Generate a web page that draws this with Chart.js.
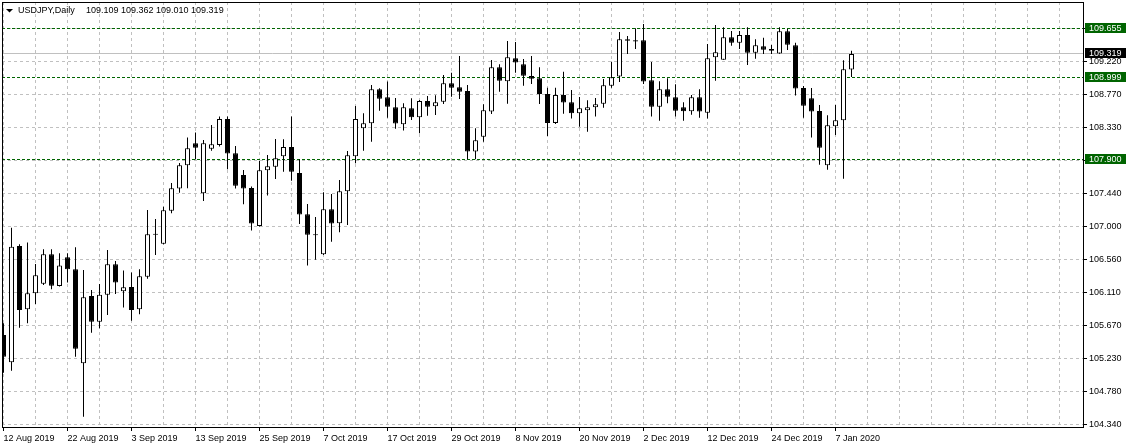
<!DOCTYPE html>
<html><head><meta charset="utf-8">
<script src="https://cdn.jsdelivr.net/npm/chart.js@4.4.1/dist/chart.umd.min.js"></script>
<style>html,body{margin:0;padding:0;background:#fff;overflow:hidden}canvas{display:block}</style>
</head><body>
<canvas id="c" width="1129" height="448" style="width:1129px;height:448px"></canvas>
<script>
const symbolTitle = 'USDJPY,Daily';
const opens = [105.545,105.178,106.740,105.889,106.104,106.234,106.628,106.203,106.588,106.427,
105.164,106.069,105.724,106.086,106.494,106.131,106.189,105.889,106.328,106.892,
106.771,107.214,107.510,107.823,108.118,107.447,108.047,108.096,108.445,107.984,
107.693,107.519,107.008,107.756,107.805,107.944,108.069,107.720,107.165,106.895,
106.628,107.232,107.044,107.474,107.944,108.320,108.387,108.844,108.736,108.602,
108.374,108.589,108.468,108.687,108.615,108.678,108.924,108.871,108.821,108.007,
108.208,108.544,109.139,108.951,109.260,109.179,109.023,108.991,108.781,108.392,
108.768,108.669,108.521,108.562,108.602,108.651,108.893,109.014,109.515,109.502,
109.502,108.965,108.611,108.844,108.736,108.602,108.548,108.736,108.530,109.273,
109.242,109.542,109.470,109.573,109.336,109.421,109.385,109.323,109.622,109.435,
108.862,108.723,108.553,107.823,108.347,108.427,109.109];
const highs = [105.701,106.986,106.762,106.785,106.498,106.695,106.695,106.641,106.641,106.722,
106.418,106.149,106.230,106.686,106.538,106.409,106.382,106.427,107.223,107.102,
107.268,107.586,107.854,108.195,108.262,108.163,108.365,108.477,108.477,108.083,
107.760,107.537,107.881,107.962,108.177,108.172,108.477,107.904,107.304,107.129,
107.461,107.438,107.626,108.016,108.620,108.521,108.902,108.857,108.947,108.727,
108.656,108.723,108.700,108.754,108.763,109.036,109.067,109.291,108.902,108.320,
108.642,109.238,109.179,109.493,109.479,109.251,109.291,109.139,108.866,108.866,
109.081,108.835,108.741,108.696,108.727,108.982,109.215,109.614,109.560,109.663,
109.721,109.211,108.951,108.991,108.911,108.669,108.768,108.844,109.452,109.708,
109.676,109.627,109.627,109.676,109.515,109.537,109.439,109.676,109.654,109.470,
108.888,108.862,108.633,108.495,108.633,109.233,109.362];
const lows = [105.039,105.066,105.643,105.701,105.961,106.216,106.158,106.194,106.248,105.254,
104.448,105.576,105.634,105.813,106.095,105.912,105.737,105.822,106.301,106.619,
106.762,107.179,107.456,107.514,107.904,107.344,108.020,108.074,107.769,107.510,
107.299,106.946,107.000,107.416,107.640,107.738,107.617,107.035,106.476,106.556,
106.620,106.798,106.923,107.022,107.850,108.020,108.141,108.557,108.463,108.315,
108.289,108.432,108.253,108.490,108.499,108.647,108.745,108.714,107.904,107.904,
108.141,108.512,108.812,108.651,109.067,108.893,108.915,108.647,108.217,108.378,
108.517,108.450,108.342,108.275,108.477,108.597,108.866,108.942,109.318,109.385,
108.915,108.477,108.423,108.656,108.477,108.423,108.503,108.463,108.450,108.960,
109.242,109.430,109.385,109.170,109.255,109.318,109.318,109.320,109.372,108.759,
108.463,108.195,107.832,107.765,108.230,107.644,109.010];
const closes = [105.254,106.731,105.880,106.104,106.346,106.628,106.207,106.476,106.427,105.361,
106.051,105.724,106.086,106.494,106.248,106.185,105.880,106.333,106.897,106.902,
107.219,107.514,107.823,108.051,108.060,108.118,108.105,108.445,107.980,107.550,
107.510,107.040,107.756,107.810,107.917,108.069,107.738,107.161,106.892,106.885,
107.232,107.040,107.474,107.957,108.445,108.387,108.844,108.718,108.611,108.383,
108.602,108.468,108.687,108.611,108.669,108.924,108.866,108.812,108.007,108.159,
108.562,109.139,108.960,109.273,109.202,109.027,108.987,108.781,108.392,108.768,
108.665,108.521,108.589,108.602,108.642,108.897,109.005,109.515,109.497,109.484,
108.947,108.611,108.844,108.745,108.557,108.548,108.736,108.544,109.260,109.340,
109.542,109.470,109.573,109.336,109.435,109.376,109.363,109.622,109.443,108.853,
108.624,108.544,108.060,108.360,108.427,109.112,109.319];
const dateLabels = ['12 Aug 2019','22 Aug 2019','3 Sep 2019','13 Sep 2019','25 Sep 2019','7 Oct 2019','17 Oct 2019','29 Oct 2019','8 Nov 2019','20 Nov 2019','2 Dec 2019','12 Dec 2019','24 Dec 2019','7 Jan 2020'];
const dateLabelBars = [0,8,16,24,32,40,48,56,64,72,80,88,96,104];
const yTickValues = [109.66,109.22,108.77,108.33,107.89,107.44,107.00,106.56,106.11,105.67,105.23,104.78,104.34];
const levelLines = [109.655,108.999,107.900];

const FONT = 'Liberation Sans';
Chart.defaults.font.family = FONT;
Chart.defaults.font.size = 9;

const last = closes.length - 1;
const bidPrice = closes[last];
const labelMap = {};
dateLabelBars.forEach((b, k) => { labelMap[b] = dateLabels[k]; });
const gridBars = [];
for (let b = 0; b <= 132; b += 4) gridBars.push(b);

const bodies = opens.map((o, i) => ({x: i, y: [o, closes[i]]}));
const wicks = lows.map((l, i) => ({x: i, y: [l, highs[i]]}));
const bodyFill = opens.map((o, i) => closes[i] >= o ? '#ffffff' : '#000000');

const mtPlugin = {
  id: 'mt',
  beforeDatasetsDraw(chart) {
    const {ctx, chartArea: a} = chart;
    const ys = chart.scales.y;
    ctx.save();
    ctx.lineWidth = 1;
    // bid line
    let py = Math.floor(ys.getPixelForValue(bidPrice)) + 0.5;
    ctx.strokeStyle = '#c0c0c0';
    ctx.setLineDash([]);
    ctx.beginPath(); ctx.moveTo(a.left, py); ctx.lineTo(a.right, py); ctx.stroke();
    ctx.strokeStyle = '#006400';
    ctx.setLineDash([3, 2]);
    levelLines.forEach(v => {
      const y = Math.floor(ys.getPixelForValue(v)) + 0.5;
      ctx.beginPath(); ctx.moveTo(a.left, y); ctx.lineTo(a.right, y); ctx.stroke();
    });
    ctx.restore();
  },
  afterDraw(chart) {
    const {ctx, chartArea: a} = chart;
    const ys = chart.scales.y;
    ctx.save();
    ctx.strokeStyle = '#000';
    ctx.lineWidth = 1;
    ctx.setLineDash([]);
    ctx.strokeRect(a.left + 0.5, a.top + 0.5, a.right - a.left, a.bottom - a.top);
    // price labels
    ctx.font = '9px "' + FONT + '"';
    ctx.textBaseline = 'middle';
    ctx.textAlign = 'left';
    const boxes = levelLines.map(v => ({v, c: '#006400'})).concat([{v: bidPrice, c: '#000000'}]);
    boxes.forEach(b => {
      const y = Math.floor(ys.getPixelForValue(b.v));
      ctx.fillStyle = b.c;
      ctx.fillRect(a.right + 2, y - 5, 41, 10);
      ctx.fillStyle = '#ffffff';
      ctx.fillText(b.v.toFixed(3), a.right + 6, y + 0.5);
    });
    // header
    ctx.fillStyle = '#000';
    ctx.beginPath(); ctx.moveTo(6, 9); ctx.lineTo(13, 9); ctx.lineTo(9.5, 12.5); ctx.closePath(); ctx.fill();
    ctx.fillText(symbolTitle, 18, 11);
    const hdr = [opens[last], highs[last], lows[last], closes[last]].map(v => v.toFixed(3)).join(' ');
    ctx.fillText(hdr, 86, 11);
    ctx.restore();
  }
};

new Chart(document.getElementById('c'), {
  type: 'bar',
  data: {
    datasets: [
      {data: bodies, backgroundColor: bodyFill, borderColor: '#000000', borderWidth: 1, borderSkipped: false,
       barThickness: 5, minBarLength: 1, grouped: false, inflateAmount: 0},
      {data: wicks, backgroundColor: '#000000', borderWidth: 0, barThickness: 1, grouped: false, inflateAmount: 0}
    ]
  },
  options: {
    responsive: false, animation: false, events: [],
    layout: {padding: {top: 2, left: 2, right: 0, bottom: 0}, autoPadding: false},
    plugins: {legend: {display: false}, tooltip: {enabled: false}},
    scales: {
      x: {
        type: 'linear', min: -0.1875, max: 134.9375, offset: false,
        grid: {offset: false, color: '#c0c0c0', lineWidth: 1, drawTicks: true, tickLength: 4, tickWidth: 1,
               tickBorderDash: [], tickColor: c => (labelMap[c.tick && c.tick.value] !== undefined ? '#000000' : 'rgba(0,0,0,0)')},
        border: {display: false, dash: [3, 3]},
        afterBuildTicks: s => { s.ticks = gridBars.map(v => ({value: v})); },
        afterFit: s => { s.height = 21; s.paddingLeft = 0; s.paddingRight = 0; },
        ticks: {autoSkip: false, maxRotation: 0, minRotation: 0, align: 'start', padding: 2, color: '#000',
                font: {family: FONT, size: 9}, callback: v => labelMap[v] !== undefined ? labelMap[v] : ''}
      },
      y: {
        position: 'right', min: 104.309, max: 110.016, beginAtZero: false,
        grid: {color: '#c0c0c0', lineWidth: 1, tickLength: 4, tickWidth: 1, tickColor: '#000000', tickBorderDash: []},
        border: {display: false, dash: [3, 3]},
        afterBuildTicks: s => { s.ticks = yTickValues.map(v => ({value: v})); },
        afterFit: s => { s.width = 46; s.paddingTop = 0; s.paddingBottom = 0; },
        ticks: {padding: 2, color: '#000', font: {family: FONT, size: 9}, callback: v => Number(v).toFixed(3)}
      }
    }
  },
  plugins: [mtPlugin]
});
</script>
</body></html>
